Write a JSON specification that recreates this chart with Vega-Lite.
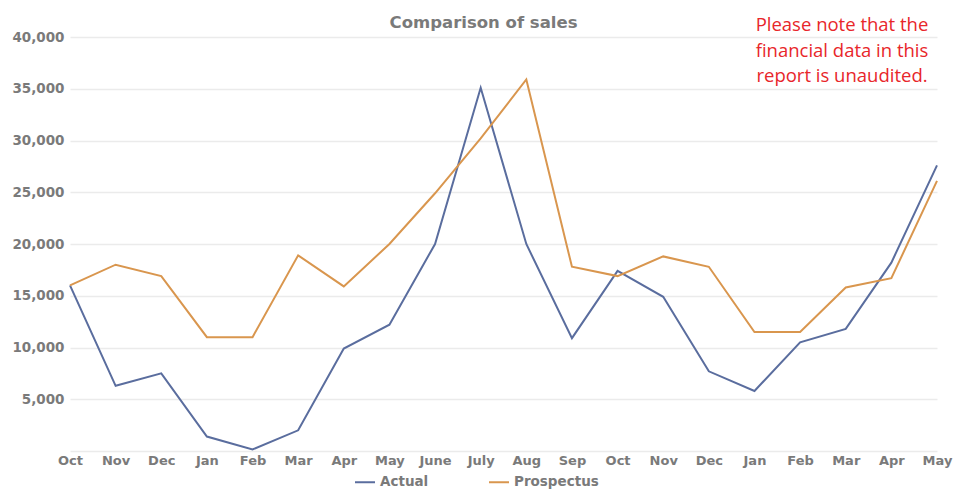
{
  "$schema": "https://vega.github.io/schema/vega-lite/v6.json",
  "width": 867,
  "height": 414,
  "autosize": {"type": "none"},
  "padding": {"left": 70, "top": 37, "right": 16, "bottom": 39},
  "background": "white",
  "title": {"text": "Comparison of sales", "font": "DejaVu Sans", "fontSize": 16.5, "fontWeight": "bold", "color": "#7a7a7a", "anchor": "middle", "frame": "group", "dx": -20, "offset": -15},
  "config": {
    "view": {"stroke": null},
    "axis": {"labelFont": "DejaVu Sans", "labelFontWeight": "bold", "labelColor": "#7a7a7a", "domain": false, "ticks": false, "title": null}
  },
  "layer": [
    {
      "data": {"values": [
        {"key": "Oct 2019", "series": "Actual", "sales": 16000},
        {"key": "Nov 2019", "series": "Actual", "sales": 6300},
        {"key": "Dec 2019", "series": "Actual", "sales": 7500},
        {"key": "Jan 2020", "series": "Actual", "sales": 1400},
        {"key": "Feb 2020", "series": "Actual", "sales": 150},
        {"key": "Mar 2020", "series": "Actual", "sales": 2000},
        {"key": "Apr 2020", "series": "Actual", "sales": 9900},
        {"key": "May 2020", "series": "Actual", "sales": 12200},
        {"key": "June 2020", "series": "Actual", "sales": 20000},
        {"key": "July 2020", "series": "Actual", "sales": 35100},
        {"key": "Aug 2020", "series": "Actual", "sales": 20000},
        {"key": "Sep 2020", "series": "Actual", "sales": 10900},
        {"key": "Oct 2020", "series": "Actual", "sales": 17400},
        {"key": "Nov 2020", "series": "Actual", "sales": 14900},
        {"key": "Dec 2020", "series": "Actual", "sales": 7700},
        {"key": "Jan 2021", "series": "Actual", "sales": 5800},
        {"key": "Feb 2021", "series": "Actual", "sales": 10500},
        {"key": "Mar 2021", "series": "Actual", "sales": 11800},
        {"key": "Apr 2021", "series": "Actual", "sales": 18200},
        {"key": "May 2021", "series": "Actual", "sales": 27600},
        {"key": "Oct 2019", "series": "Prospectus", "sales": 16000},
        {"key": "Nov 2019", "series": "Prospectus", "sales": 18000},
        {"key": "Dec 2019", "series": "Prospectus", "sales": 16900},
        {"key": "Jan 2020", "series": "Prospectus", "sales": 11000},
        {"key": "Feb 2020", "series": "Prospectus", "sales": 11000},
        {"key": "Mar 2020", "series": "Prospectus", "sales": 18900},
        {"key": "Apr 2020", "series": "Prospectus", "sales": 15900},
        {"key": "May 2020", "series": "Prospectus", "sales": 20000},
        {"key": "June 2020", "series": "Prospectus", "sales": 24900},
        {"key": "July 2020", "series": "Prospectus", "sales": 30200},
        {"key": "Aug 2020", "series": "Prospectus", "sales": 35900},
        {"key": "Sep 2020", "series": "Prospectus", "sales": 17800},
        {"key": "Oct 2020", "series": "Prospectus", "sales": 16900},
        {"key": "Nov 2020", "series": "Prospectus", "sales": 18800},
        {"key": "Dec 2020", "series": "Prospectus", "sales": 17800},
        {"key": "Jan 2021", "series": "Prospectus", "sales": 11500},
        {"key": "Feb 2021", "series": "Prospectus", "sales": 11500},
        {"key": "Mar 2021", "series": "Prospectus", "sales": 15800},
        {"key": "Apr 2021", "series": "Prospectus", "sales": 16700},
        {"key": "May 2021", "series": "Prospectus", "sales": 26100}
      ]},
      "mark": {"type": "line", "strokeWidth": 2},
      "encoding": {
        "x": {
          "field": "key", "type": "ordinal", "sort": null,
          "scale": {"type": "point", "padding": 0, "domain": ["Oct 2019","Nov 2019","Dec 2019","Jan 2020","Feb 2020","Mar 2020","Apr 2020","May 2020","June 2020","July 2020","Aug 2020","Sep 2020","Oct 2020","Nov 2020","Dec 2020","Jan 2021","Feb 2021","Mar 2021","Apr 2021","May 2021"]},
          "axis": {"labelAngle": 0, "labelPadding": 3, "labelFontSize": 13, "grid": false, "labelExpr": "split(datum.label, ' ')[0]"}
        },
        "y": {
          "field": "sales", "type": "quantitative",
          "scale": {"domain": [0, 40000], "nice": false},
          "axis": {"values": [0,5000,10000,15000,20000,25000,30000,35000,40000], "labelFontSize": 13.5, "grid": true, "gridColor": "#ebebeb", "gridWidth": 1.5, "labelPadding": 6, "labelExpr": "datum.value == 0 ? '' : format(datum.value, ',')"}
        },
        "color": {
          "field": "series", "type": "nominal",
          "scale": {"domain": ["Actual", "Prospectus"], "range": ["#5a6d9e", "#d9964e"]},
          "legend": {"orient": "none", "legendX": 284, "legendY": 434, "direction": "horizontal", "title": null, "symbolType": "stroke", "symbolSize": 400, "symbolStrokeWidth": 2, "labelFont": "DejaVu Sans", "labelFontSize": 13.5, "labelFontWeight": "bold", "labelColor": "#7a7a7a", "columnPadding": 56}
        }
      }
    },
    {
      "data": {"values": [{"note": "Please note that the financial data in this report is unaudited."}]},
      "mark": {"type": "text", "font": "Open Sans", "fontSize": 18.5, "color": "#e8262a", "align": "center", "baseline": "middle", "lineHeight": 25.5, "dx": -95, "dy": -12, "clip": false},
      "encoding": {
        "x": {"datum": "May 2021", "type": "ordinal"},
        "y": {"datum": 40000, "type": "quantitative"},
        "text": {"value": ["Please note that the", "financial data in this", "report is unaudited."]}
      }
    }
  ]
}
